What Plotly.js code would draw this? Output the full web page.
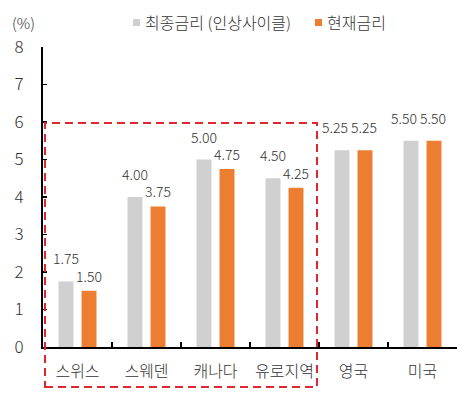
<!DOCTYPE html>
<html>
<head>
<meta charset="utf-8">
<script src="https://cdn.plot.ly/plotly-3.0.1.min.js"></script>
<style>html,body{margin:0;padding:0;background:#fff;}#chart{width:473px;height:394px;}</style>
</head>
<body>
<div id="chart"></div>
<script>
const categories = ['스위스', '스웨덴', '캐나다', '유로지역', '영국', '미국'];
const finalRate = [1.75, 4.00, 5.00, 4.50, 5.25, 5.50];
const currentRate = [1.50, 3.75, 4.75, 4.25, 5.25, 5.50];
const seriesNames = ['최종금리 (인상사이클)', '현재금리'];
const yTickVals = [0, 1, 2, 3, 4, 5, 6, 7, 8];
const unitLabel = '(%)';

const GRAY = '#D0D0D0';
const ORANGE = '#ED7D31';
const FONT = '"Noto Sans CJK KR", "Noto Sans", sans-serif';
const TXT = '#333333';
const WT = 300;

const W = 473, H = 394;
const M = {l: 43, r: 16, t: 47, b: 47};
const pw = W - M.l - M.r, ph = H - M.t - M.b;
const px = x => (x - M.l) / pw;
const py = y => (H - M.b - y) / ph;

const traces = [
  {type: 'bar', name: seriesNames[0], x: categories, y: finalRate,
   marker: {color: GRAY}, showlegend: false, hoverinfo: 'none'},
  {type: 'bar', name: seriesNames[1], x: categories, y: currentRate,
   marker: {color: ORANGE}, showlegend: false, hoverinfo: 'none'}
];

const annotations = [];
categories.forEach((c, i) => {
  const eq = finalRate[i] === currentRate[i];
  annotations.push({xref: 'x', yref: 'y', x: c, y: finalRate[i], text: finalRate[i].toFixed(2),
    showarrow: false, xshift: eq ? -19 : -11.5, yshift: 23, yanchor: 'middle',
    font: {family: FONT, size: 14, color: TXT, weight: WT}});
  annotations.push({xref: 'x', yref: 'y', x: c, y: currentRate[i], text: currentRate[i].toFixed(2),
    showarrow: false, xshift: eq ? 10.5 : 11.5, yshift: eq ? 23 : 15, yanchor: 'middle',
    font: {family: FONT, size: 14, color: TXT, weight: WT}});
});
annotations.push({xref: 'paper', yref: 'paper', x: px(10), y: py(22), xanchor: 'left', yanchor: 'middle',
  text: unitLabel, showarrow: false, font: {family: FONT, size: 15, color: TXT, weight: WT}});
annotations.push({xref: 'paper', yref: 'paper', x: px(143), y: py(22), xanchor: 'left', yanchor: 'middle',
  text: seriesNames[0], showarrow: false, font: {family: FONT, size: 16, color: TXT, weight: WT}});
annotations.push({xref: 'paper', yref: 'paper', x: px(325), y: py(22), xanchor: 'left', yanchor: 'middle',
  text: seriesNames[1], showarrow: false, font: {family: FONT, size: 16, color: TXT, weight: WT}});

const shapes = [
  {type: 'rect', xref: 'paper', yref: 'paper', x0: px(133), x1: px(140), y0: py(26), y1: py(19),
   fillcolor: GRAY, line: {width: 0}},
  {type: 'rect', xref: 'paper', yref: 'paper', x0: px(315), x1: px(322), y0: py(26), y1: py(19),
   fillcolor: ORANGE, line: {width: 0}},
  {type: 'rect', xref: 'paper', yref: 'paper', x0: px(45), x1: px(317), y0: py(387), y1: py(123),
   fillcolor: 'rgba(0,0,0,0)', line: {color: '#E0262E', width: 2, dash: '8px,5px'}, layer: 'above'}
];

const layout = {
  width: W, height: H,
  margin: M,
  paper_bgcolor: '#fff', plot_bgcolor: '#fff',
  barmode: 'group', bargap: 0.333, bargroupgap: 0.35,
  showlegend: false,
  font: {family: FONT, color: TXT, weight: WT},
  xaxis: {type: 'category', showline: true, linecolor: '#000', linewidth: 2,
    ticks: 'inside', tickson: 'boundaries', ticklen: 5, tickcolor: '#000', tickwidth: 1.5,
    tickfont: {family: FONT, size: 16, color: TXT, weight: WT}, ticklabelstandoff: 9, showgrid: false, zeroline: false},
  yaxis: {range: [0, 8], tickvals: yTickVals, showline: true, linecolor: '#000', linewidth: 2,
    ticks: 'inside', ticklen: 4, tickcolor: '#000', tickwidth: 1.5,
    tickfont: {family: FONT, size: 17, color: TXT, weight: WT}, ticklabelstandoff: 14,
    showgrid: false, zeroline: false},
  annotations: annotations,
  shapes: shapes
};

Plotly.newPlot('chart', traces, layout, {staticPlot: true, displayModeBar: false});
</script>
</body>
</html>
